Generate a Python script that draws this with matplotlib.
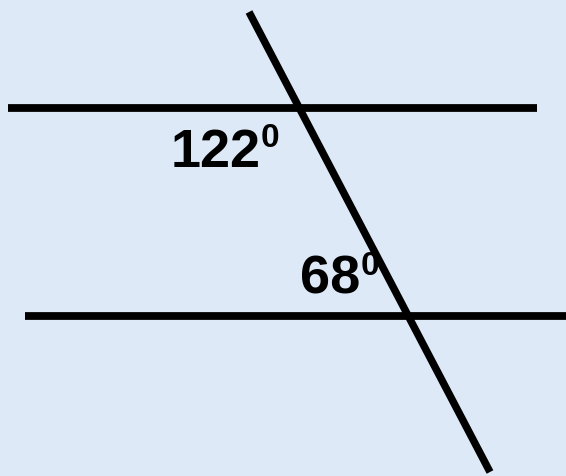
import matplotlib.pyplot as plt

# Geometry (pixel coordinates of the picture, y downward)
parallel_x = [(8, 537), (25, 566)]
parallel_y = [108, 316]
transversal_x = [249, 490]
transversal_y = [12, 472]

# Angle labels
angle_values = ['122', '68']
label_pos = [(171, 167), (300, 294)]
degree_pos = [(261, 147), (361, 275)]

bg = '#dde9f6'
fig = plt.figure(figsize=(5.66, 4.76), dpi=100)
fig.patch.set_facecolor(bg)
ax = fig.add_axes([0, 0, 1, 1])
ax.set_facecolor(bg)
ax.set_xlim(0, 566)
ax.set_ylim(476, 0)
ax.axis('off')

# Parallel lines
for xs, y in zip(parallel_x, parallel_y):
    ax.plot(xs, [y, y], color='black', linewidth=5.6, solid_capstyle='butt')

# Transversal
ax.plot(transversal_x, transversal_y, color='black', linewidth=5.4, solid_capstyle='butt')

# Labels with degree marks
for val, (x, y), (dx, dy) in zip(angle_values, label_pos, degree_pos):
    ax.text(x, y, val, fontsize=39, fontweight='bold', family='Liberation Sans',
            ha='left', va='baseline')
    ax.text(dx, dy, '0', fontsize=24, fontweight='bold', family='Liberation Sans',
            ha='left', va='baseline')

plt.savefig('out.png', dpi=100)
